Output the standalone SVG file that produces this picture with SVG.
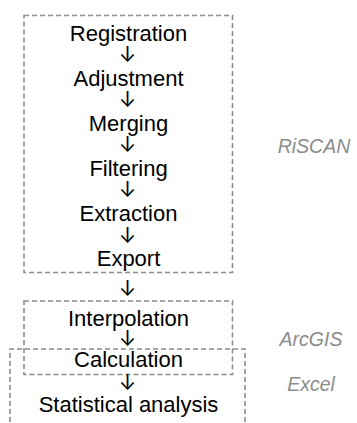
<svg xmlns="http://www.w3.org/2000/svg" width="357" height="423" viewBox="0 0 357 423">
<style>
.t{font-family:"Liberation Sans",Arial,sans-serif;font-size:22px;fill:#000;text-anchor:middle}
.a{font-family:Inter,"DejaVu Sans",sans-serif;font-size:21px;fill:#000;text-anchor:middle}
.l{font-family:"Liberation Sans",Arial,sans-serif;font-size:19.5px;font-style:italic;fill:#8c8c8c;text-anchor:middle}
.box{fill:none;stroke:#8c8c8c;stroke-width:1.6;stroke-dasharray:5 3}
</style>
<rect width="357" height="423" fill="#fff"/>
<g id="groups">
<g id="riscan"><rect class="box" x="24" y="15.5" width="208.5" height="257"/><text class="l" x="314" y="153">RiSCAN</text></g>
<g id="arcgis"><rect class="box" x="24" y="301" width="208.5" height="73.5"/><text class="l" x="311" y="346">ArcGIS</text></g>
<g id="excel"><path class="box" d="M10,430 V349 H245 V430"/><text class="l" x="311" y="391">Excel</text></g>
</g>
<g id="registration"><text class="t" x="128.5" y="41">Registration</text></g>
<g id="adjustment"><text class="t" x="128.5" y="86">Adjustment</text></g>
<g id="merging"><text class="t" x="128.5" y="131">Merging</text></g>
<g id="filtering"><text class="t" x="128.5" y="176">Filtering</text></g>
<g id="extraction"><text class="t" x="128.5" y="221">Extraction</text></g>
<g id="export"><text class="t" x="128.5" y="266">Export</text></g>
<g id="interpolation"><text class="t" x="128.5" y="326">Interpolation</text></g>
<g id="calculation"><text class="t" x="128.5" y="367">Calculation</text></g>
<g id="statistical"><text class="t" x="128.5" y="412">Statistical analysis</text></g>
<g id="connectors">
<text class="a" x="127.5" y="62">↓</text>
<text class="a" x="127.5" y="107">↓</text>
<text class="a" x="127.5" y="152">↓</text>
<text class="a" x="127.5" y="197">↓</text>
<text class="a" x="127.5" y="243">↓</text>
<text class="a" x="127.5" y="296">↓</text>
<text class="a" x="127.5" y="346">↓</text>
<text class="a" x="127.5" y="390">↓</text>
</g>
</svg>
